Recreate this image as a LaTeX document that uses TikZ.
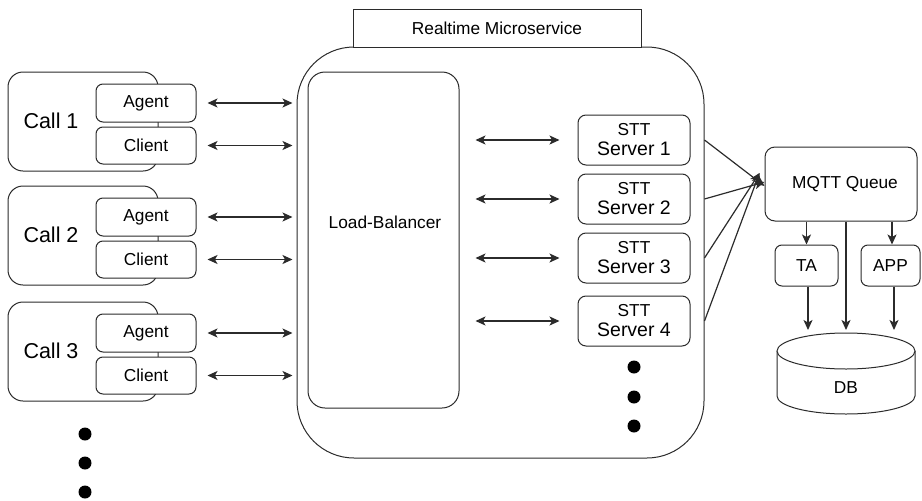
\documentclass[tikz,border=0pt]{standalone}
\usepackage{fontspec}
\setmainfont{Liberation Sans}
\usetikzlibrary{arrows.meta}
\definecolor{ink}{HTML}{2B2B2B}
\newcommand{\fsnorm}{\fontsize{17.3}{21}\selectfont}
\newcommand{\fsbig}{\fontsize{19.5}{21}\selectfont}
\newcommand{\fscall}{\fontsize{21.5}{24}\selectfont}
\begin{document}
\begin{tikzpicture}[x=1pt,y=-1pt,line width=1pt,
  box/.style={draw=ink,fill=white,rectangle,inner sep=0pt,font=\fsnorm},
  callbox/.style={box,rounded corners=15,minimum width=150,minimum height=99},
  partbox/.style={box,rounded corners=7,minimum width=100,minimum height=37},
  srvbox/.style={box,rounded corners=8,minimum width=112,minimum height=50,align=center},
  smallbox/.style={box,rounded corners=7,minimum height=41},
  conn/.style={draw=ink,line width=1.2pt},
  tip/.style={conn,-{Stealth[length=10pt,width=9pt,inset=2.5pt]}},
  both/.style={conn,{Stealth[length=10pt,width=9pt,inset=2.5pt]}-{Stealth[length=10pt,width=9pt,inset=2.5pt]}},
  dot/.style={circle,fill=black,inner sep=0pt,minimum size=13}]
\useasboundingbox (0,0) rectangle (922,501);

% calls with their agent and client legs
\foreach \i/\t in {1/72,2/186,3/302}{
  \node[callbox] (call\i) at (83,\t+49.5) {};
  \node[font=\fscall] (callt\i) at (51,\t+49) {Call \i};
  \node[partbox,minimum height=38] (agent\i) at (146,\t+31) {Agent};
  \node[partbox] (client\i) at (146,\t+73.5) {Client};
}
\node[dot] (ld1) at (85,434) {};
\node[dot] (ld2) at (85,463) {};
\node[dot] (ld3) at (85,492) {};

% realtime microservice container
\node[box,rounded corners=57,minimum width=407,minimum height=411] (ms) at (500.5,252.5) {};
\node[box,minimum width=288,minimum height=38] (title) at (497,28) {Realtime Microservice};
\node[box,rounded corners=17,minimum width=151,minimum height=336] (lb) at (383.5,240) {};
\node[font=\fsnorm] (lbt) at (385,222) {Load-Balancer};

% speech-to-text servers
\foreach \i/\y in {1/140,2/199,3/258,4/321}{
  \node[srvbox] (stt\i) at (634,\y) {\fsnorm STT\\[-1pt]\fsbig Server \i};
}
\node[dot] (sd1) at (634,367) {};
\node[dot] (sd2) at (634,397) {};
\node[dot] (sd3) at (634,426) {};

% queue and consumers
\node[box,rounded corners=10,minimum width=152,minimum height=74] (mqtt) at (841,184) {};
\node[font=\fsnorm] (mqttt) at (845,184) {MQTT Queue};
\node[smallbox,minimum width=63] (ta) at (806.5,265.5) {TA};
\node[smallbox,minimum width=59] (app) at (890.5,265.5) {APP};

% database cylinder
\coordinate (dbc) at (846,351);
\draw[draw=ink,fill=white] (777,351) -- (777,396) arc[start angle=180,end angle=360,x radius=69,y radius=-18] -- (915,351);
\draw[draw=ink,fill=white] (dbc) ellipse[x radius=69,y radius=18];
\node[font=\fsnorm] (db) at (846,388) {DB};
\coordinate (dbtip) at (846,330);

% call legs to the container
\foreach \i in {1,2,3}{
  \draw[both,shorten <=11pt,shorten >=4pt] (agent\i.east) -- (agent\i.east -| ms.west);
  \draw[both,shorten <=11pt,shorten >=4pt] (client\i.east) -- (client\i.east -| ms.west);
}
% load balancer to servers
\foreach \i in {1,2,3,4}{
  \draw[both,shorten <=16pt,shorten >=18pt] (stt\i.west -| lb.east) -- (stt\i.west);
}
% servers to the queue
\draw[tip] (stt1.east -| ms.east) -- ([yshift=-2]mqtt.west);
\draw[tip] (stt2.east -| ms.east) -- ([yshift=2]mqtt.west);
\draw[tip] (stt3.east -| ms.east) -- ([xshift=-5,yshift=11]mqtt.west);
\draw[tip] (stt4.east -| ms.east) -- ([xshift=-5,yshift=11]mqtt.west);

% queue to consumers and database
\draw[tip] (ta.north |- mqtt.south) -- (ta.north);
\draw[tip] ([xshift=1.5]app.north |- mqtt.south) -- ([xshift=1.5]app.north);
\draw[tip] (dbtip |- mqtt.south) -- (dbtip);
\draw[tip] ([xshift=1.5]ta.south) -- ([xshift=1.5]ta.south |- dbtip);
\draw[tip] ([xshift=3.5]app.south) -- ([xshift=3.5]app.south |- dbtip);
\end{tikzpicture}
\end{document}
